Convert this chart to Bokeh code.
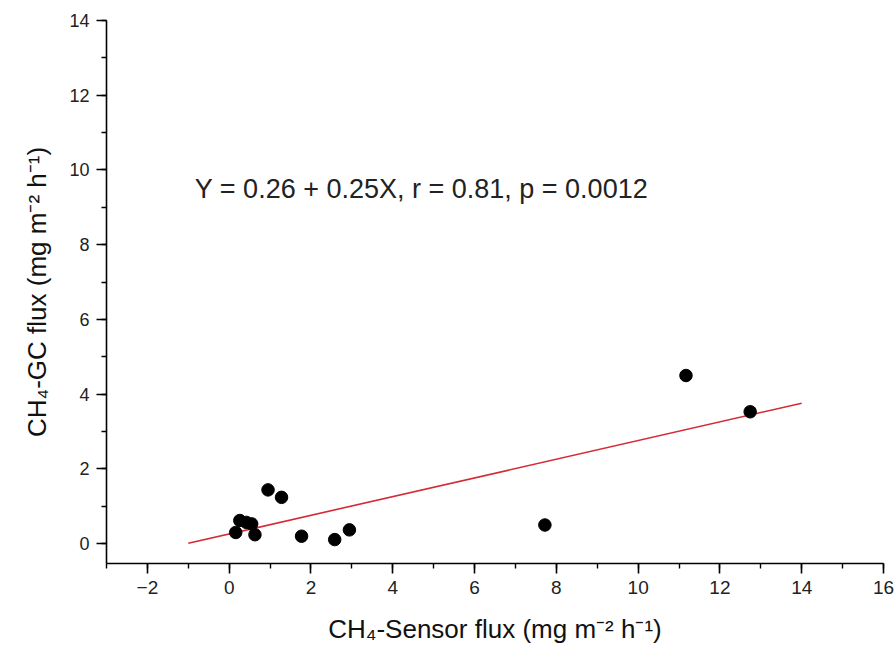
from bokeh.plotting import figure
from bokeh.models import Range1d, SingleIntervalTicker, Label
from bokeh.embed import file_html
from bokeh.resources import INLINE

# Data
sensor_flux = [0.95, 1.28, 0.26, 0.42, 0.55, 0.16, 0.63, 1.77, 2.58, 2.94, 7.72, 11.17, 12.74]
gc_flux     = [1.44, 1.24, 0.62, 0.57, 0.53, 0.30, 0.24, 0.20, 0.11, 0.37, 0.50, 4.50, 3.53]

fit_intercept = 0.26
fit_slope = 0.25
fit_x = [-1.0, 14.0]
fit_y = [fit_intercept + fit_slope * v for v in fit_x]

annotation = "Y = 0.26 + 0.25X, r = 0.81, p = 0.0012"
x_label = "CH\u2084-Sensor flux (mg m\u207b\u00b2 h\u207b\u00b9)"
y_label = "CH\u2084-GC flux (mg m\u207b\u00b2 h\u207b\u00b9)"

FONT = "Liberation Sans"

p = figure(width=896, height=665, output_backend="svg", toolbar_location=None,
           x_range=Range1d(-3, 16), y_range=Range1d(-0.53, 14),
           min_border_left=106, min_border_right=13, min_border_top=20, min_border_bottom=102)
p.outline_line_color = None
p.xgrid.visible = False
p.ygrid.visible = False
p.background_fill_color = "white"
p.border_fill_color = "white"

for ax in (p.xaxis[0], p.yaxis[0]):
    ax.ticker = SingleIntervalTicker(interval=2, num_minor_ticks=2)
    ax.axis_line_width = 1.6
    ax.axis_line_color = "black"
    ax.major_tick_line_color = "black"
    ax.major_tick_line_width = 1.6
    ax.minor_tick_line_color = "black"
    ax.minor_tick_line_width = 1.4
    ax.major_tick_out = 10
    ax.major_tick_in = 0
    ax.minor_tick_out = 5
    ax.minor_tick_in = 0
    ax.major_label_text_font = FONT
    ax.major_label_text_color = "#222222"
    ax.axis_label_text_font = FONT
    ax.axis_label_text_font_style = "normal"
    ax.axis_label_text_color = "#111111"

p.xaxis.major_label_text_font_size = "19px"
p.yaxis.major_label_text_font_size = "18px"
p.xaxis.major_label_standoff = 7
p.yaxis.major_label_standoff = 7
p.xaxis.axis_label = x_label
p.yaxis.axis_label = y_label
p.xaxis.axis_label_text_font_size = "26px"
p.yaxis.axis_label_text_font_size = "26px"
p.xaxis.axis_label_standoff = 17
p.yaxis.axis_label_standoff = 14

p.line(fit_x, fit_y, line_color="#d42a35", line_width=1.6)
p.scatter(sensor_flux, gc_flux, size=12.5, marker="circle", fill_color="black", line_color="black")

p.add_layout(Label(x=-0.84, y=9.5, text=annotation, text_font=FONT,
                   text_font_size="27px", text_color="#222222", text_baseline="alphabetic"))

open("out.html", "w").write(file_html(p, INLINE))
